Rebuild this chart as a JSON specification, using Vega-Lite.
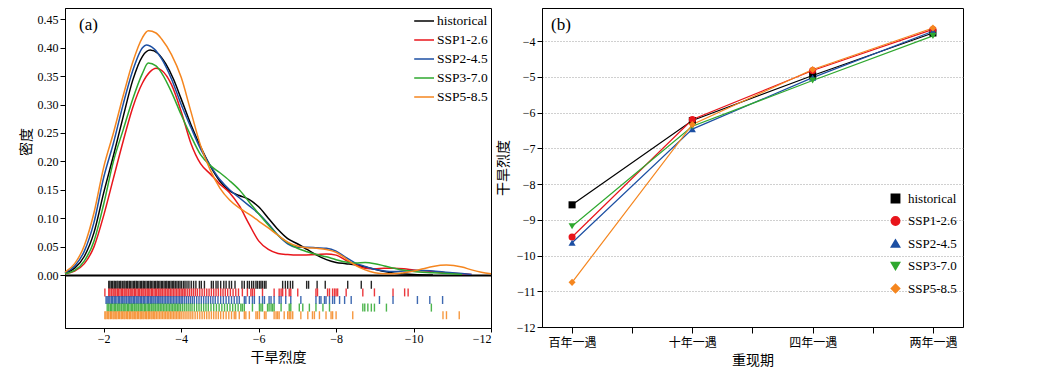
{
  "$schema": "https://vega.github.io/schema/vega-lite/v6.json",
  "autosize": {"type": "pad"},
  "padding": {"left": 18, "top": 7, "right": 0, "bottom": 0},
  "background": "white",
  "config": {
    "view": {"stroke": "black", "strokeWidth": 1},
    "font": "Liberation Serif",
    "axis": {"labelFont": "Liberation Serif", "labelFontSize": 12, "labelColor": "black", "domainColor": "black", "tickColor": "black", "titleFont": "Noto Sans CJK SC", "titleFontSize": 14, "titleFontWeight": "normal", "titleColor": "black", "grid": false},
    "legend": {"labelFont": "Liberation Serif", "labelColor": "black"},
    "title": {"font": "Liberation Serif", "fontSize": 17, "fontWeight": "normal", "color": "black"}
  },
  "datasets": {
    "density": [
      {"series":"historical","severity":-1,"density":0.003},{"series":"historical","severity":-1.25,"density":0.012},{"series":"historical","severity":-1.5,"density":0.033},{"series":"historical","severity":-1.75,"density":0.075},{"series":"historical","severity":-2,"density":0.145},{"series":"historical","severity":-2.25,"density":0.21},{"series":"historical","severity":-2.5,"density":0.278},{"series":"historical","severity":-2.75,"density":0.343},{"series":"historical","severity":-3,"density":0.385},{"series":"historical","severity":-3.2,"density":0.396},{"series":"historical","severity":-3.4,"density":0.39},{"series":"historical","severity":-3.6,"density":0.372},{"series":"historical","severity":-3.8,"density":0.345},{"series":"historical","severity":-4,"density":0.31},{"series":"historical","severity":-4.25,"density":0.265},{"series":"historical","severity":-4.5,"density":0.226},{"series":"historical","severity":-4.75,"density":0.192},{"series":"historical","severity":-5,"density":0.165},{"series":"historical","severity":-5.25,"density":0.148},{"series":"historical","severity":-5.5,"density":0.14},{"series":"historical","severity":-5.75,"density":0.133},{"series":"historical","severity":-6,"density":0.12},{"series":"historical","severity":-6.25,"density":0.1},{"series":"historical","severity":-6.5,"density":0.08},{"series":"historical","severity":-6.75,"density":0.064},{"series":"historical","severity":-7,"density":0.055},{"series":"historical","severity":-7.25,"density":0.045},{"series":"historical","severity":-7.5,"density":0.035},{"series":"historical","severity":-7.75,"density":0.027},{"series":"historical","severity":-8,"density":0.022},{"series":"historical","severity":-8.25,"density":0.02},{"series":"historical","severity":-8.5,"density":0.018},{"series":"historical","severity":-8.75,"density":0.014},{"series":"historical","severity":-9,"density":0.01},{"series":"historical","severity":-9.25,"density":0.006},{"series":"historical","severity":-9.5,"density":0.003},{"series":"historical","severity":-10,"density":0.001},{"series":"historical","severity":-10.5,"density":0},
      {"series":"SSP1-2.6","severity":-1,"density":0.002},{"series":"SSP1-2.6","severity":-1.25,"density":0.007},{"series":"SSP1-2.6","severity":-1.5,"density":0.02},{"series":"SSP1-2.6","severity":-1.75,"density":0.05},{"series":"SSP1-2.6","severity":-2,"density":0.105},{"series":"SSP1-2.6","severity":-2.25,"density":0.17},{"series":"SSP1-2.6","severity":-2.5,"density":0.235},{"series":"SSP1-2.6","severity":-2.75,"density":0.295},{"series":"SSP1-2.6","severity":-3,"density":0.338},{"series":"SSP1-2.6","severity":-3.2,"density":0.358},{"series":"SSP1-2.6","severity":-3.35,"density":0.364},{"series":"SSP1-2.6","severity":-3.5,"density":0.36},{"series":"SSP1-2.6","severity":-3.75,"density":0.335},{"series":"SSP1-2.6","severity":-4,"density":0.288},{"series":"SSP1-2.6","severity":-4.25,"density":0.232},{"series":"SSP1-2.6","severity":-4.5,"density":0.196},{"series":"SSP1-2.6","severity":-4.75,"density":0.178},{"series":"SSP1-2.6","severity":-5,"density":0.16},{"series":"SSP1-2.6","severity":-5.25,"density":0.145},{"series":"SSP1-2.6","severity":-5.5,"density":0.122},{"series":"SSP1-2.6","severity":-5.75,"density":0.09},{"series":"SSP1-2.6","severity":-6,"density":0.06},{"series":"SSP1-2.6","severity":-6.25,"density":0.045},{"series":"SSP1-2.6","severity":-6.5,"density":0.038},{"series":"SSP1-2.6","severity":-6.75,"density":0.036},{"series":"SSP1-2.6","severity":-7,"density":0.035},{"series":"SSP1-2.6","severity":-7.5,"density":0.036},{"series":"SSP1-2.6","severity":-7.75,"density":0.037},{"series":"SSP1-2.6","severity":-8,"density":0.035},{"series":"SSP1-2.6","severity":-8.25,"density":0.026},{"series":"SSP1-2.6","severity":-8.5,"density":0.018},{"series":"SSP1-2.6","severity":-8.75,"density":0.012},{"series":"SSP1-2.6","severity":-9,"density":0.011},{"series":"SSP1-2.6","severity":-9.25,"density":0.012},{"series":"SSP1-2.6","severity":-9.5,"density":0.012},{"series":"SSP1-2.6","severity":-9.75,"density":0.011},{"series":"SSP1-2.6","severity":-10,"density":0.009},{"series":"SSP1-2.6","severity":-10.5,"density":0.006},{"series":"SSP1-2.6","severity":-11,"density":0.003},{"series":"SSP1-2.6","severity":-11.5,"density":0.001},
      {"series":"SSP2-4.5","severity":-1,"density":0.004},{"series":"SSP2-4.5","severity":-1.25,"density":0.016},{"series":"SSP2-4.5","severity":-1.5,"density":0.042},{"series":"SSP2-4.5","severity":-1.75,"density":0.093},{"series":"SSP2-4.5","severity":-2,"density":0.172},{"series":"SSP2-4.5","severity":-2.25,"density":0.232},{"series":"SSP2-4.5","severity":-2.5,"density":0.3},{"series":"SSP2-4.5","severity":-2.75,"density":0.36},{"series":"SSP2-4.5","severity":-3,"density":0.4},{"series":"SSP2-4.5","severity":-3.1,"density":0.405},{"series":"SSP2-4.5","severity":-3.3,"density":0.398},{"series":"SSP2-4.5","severity":-3.5,"density":0.38},{"series":"SSP2-4.5","severity":-3.75,"density":0.345},{"series":"SSP2-4.5","severity":-4,"density":0.3},{"series":"SSP2-4.5","severity":-4.25,"density":0.26},{"series":"SSP2-4.5","severity":-4.5,"density":0.222},{"series":"SSP2-4.5","severity":-4.75,"density":0.193},{"series":"SSP2-4.5","severity":-5,"density":0.168},{"series":"SSP2-4.5","severity":-5.25,"density":0.15},{"series":"SSP2-4.5","severity":-5.5,"density":0.136},{"series":"SSP2-4.5","severity":-5.75,"density":0.122},{"series":"SSP2-4.5","severity":-6,"density":0.108},{"series":"SSP2-4.5","severity":-6.25,"density":0.09},{"series":"SSP2-4.5","severity":-6.5,"density":0.07},{"series":"SSP2-4.5","severity":-6.75,"density":0.055},{"series":"SSP2-4.5","severity":-7,"density":0.049},{"series":"SSP2-4.5","severity":-7.25,"density":0.049},{"series":"SSP2-4.5","severity":-7.5,"density":0.048},{"series":"SSP2-4.5","severity":-7.75,"density":0.047},{"series":"SSP2-4.5","severity":-8,"density":0.042},{"series":"SSP2-4.5","severity":-8.25,"density":0.031},{"series":"SSP2-4.5","severity":-8.5,"density":0.021},{"series":"SSP2-4.5","severity":-8.75,"density":0.015},{"series":"SSP2-4.5","severity":-9,"density":0.01},{"series":"SSP2-4.5","severity":-9.25,"density":0.007},{"series":"SSP2-4.5","severity":-9.5,"density":0.006},{"series":"SSP2-4.5","severity":-9.75,"density":0.007},{"series":"SSP2-4.5","severity":-10,"density":0.008},{"series":"SSP2-4.5","severity":-10.25,"density":0.008},{"series":"SSP2-4.5","severity":-10.5,"density":0.007},{"series":"SSP2-4.5","severity":-11,"density":0.004},{"series":"SSP2-4.5","severity":-11.5,"density":0.001},
      {"series":"SSP3-7.0","severity":-1,"density":0.002},{"series":"SSP3-7.0","severity":-1.25,"density":0.008},{"series":"SSP3-7.0","severity":-1.5,"density":0.025},{"series":"SSP3-7.0","severity":-1.75,"density":0.06},{"series":"SSP3-7.0","severity":-2,"density":0.125},{"series":"SSP3-7.0","severity":-2.25,"density":0.2},{"series":"SSP3-7.0","severity":-2.5,"density":0.255},{"series":"SSP3-7.0","severity":-2.75,"density":0.31},{"series":"SSP3-7.0","severity":-3,"density":0.355},{"series":"SSP3-7.0","severity":-3.15,"density":0.373},{"series":"SSP3-7.0","severity":-3.35,"density":0.368},{"series":"SSP3-7.0","severity":-3.5,"density":0.355},{"series":"SSP3-7.0","severity":-3.75,"density":0.322},{"series":"SSP3-7.0","severity":-4,"density":0.282},{"series":"SSP3-7.0","severity":-4.25,"density":0.245},{"series":"SSP3-7.0","severity":-4.5,"density":0.212},{"series":"SSP3-7.0","severity":-4.75,"density":0.193},{"series":"SSP3-7.0","severity":-5,"density":0.18},{"series":"SSP3-7.0","severity":-5.25,"density":0.166},{"series":"SSP3-7.0","severity":-5.5,"density":0.15},{"series":"SSP3-7.0","severity":-5.75,"density":0.129},{"series":"SSP3-7.0","severity":-6,"density":0.108},{"series":"SSP3-7.0","severity":-6.25,"density":0.088},{"series":"SSP3-7.0","severity":-6.5,"density":0.07},{"series":"SSP3-7.0","severity":-6.75,"density":0.057},{"series":"SSP3-7.0","severity":-7,"density":0.047},{"series":"SSP3-7.0","severity":-7.25,"density":0.041},{"series":"SSP3-7.0","severity":-7.5,"density":0.036},{"series":"SSP3-7.0","severity":-7.75,"density":0.032},{"series":"SSP3-7.0","severity":-8,"density":0.027},{"series":"SSP3-7.0","severity":-8.25,"density":0.023},{"series":"SSP3-7.0","severity":-8.5,"density":0.021},{"series":"SSP3-7.0","severity":-8.75,"density":0.022},{"series":"SSP3-7.0","severity":-9,"density":0.02},{"series":"SSP3-7.0","severity":-9.25,"density":0.016},{"series":"SSP3-7.0","severity":-9.5,"density":0.012},{"series":"SSP3-7.0","severity":-10,"density":0.006},{"series":"SSP3-7.0","severity":-10.5,"density":0.004},{"series":"SSP3-7.0","severity":-11,"density":0.002},{"series":"SSP3-7.0","severity":-11.25,"density":0.001},
      {"series":"SSP5-8.5","severity":-1,"density":0.005},{"series":"SSP5-8.5","severity":-1.25,"density":0.02},{"series":"SSP5-8.5","severity":-1.5,"density":0.052},{"series":"SSP5-8.5","severity":-1.75,"density":0.11},{"series":"SSP5-8.5","severity":-2,"density":0.19},{"series":"SSP5-8.5","severity":-2.25,"density":0.25},{"series":"SSP5-8.5","severity":-2.5,"density":0.315},{"series":"SSP5-8.5","severity":-2.75,"density":0.375},{"series":"SSP5-8.5","severity":-3,"density":0.418},{"series":"SSP5-8.5","severity":-3.15,"density":0.43},{"series":"SSP5-8.5","severity":-3.35,"density":0.426},{"series":"SSP5-8.5","severity":-3.5,"density":0.415},{"series":"SSP5-8.5","severity":-3.75,"density":0.388},{"series":"SSP5-8.5","severity":-4,"density":0.348},{"series":"SSP5-8.5","severity":-4.25,"density":0.288},{"series":"SSP5-8.5","severity":-4.5,"density":0.228},{"series":"SSP5-8.5","severity":-4.75,"density":0.185},{"series":"SSP5-8.5","severity":-5,"density":0.153},{"series":"SSP5-8.5","severity":-5.25,"density":0.132},{"series":"SSP5-8.5","severity":-5.5,"density":0.118},{"series":"SSP5-8.5","severity":-5.75,"density":0.107},{"series":"SSP5-8.5","severity":-6,"density":0.095},{"series":"SSP5-8.5","severity":-6.25,"density":0.083},{"series":"SSP5-8.5","severity":-6.5,"density":0.07},{"series":"SSP5-8.5","severity":-6.75,"density":0.058},{"series":"SSP5-8.5","severity":-7,"density":0.051},{"series":"SSP5-8.5","severity":-7.25,"density":0.048},{"series":"SSP5-8.5","severity":-7.5,"density":0.047},{"series":"SSP5-8.5","severity":-7.75,"density":0.045},{"series":"SSP5-8.5","severity":-8,"density":0.04},{"series":"SSP5-8.5","severity":-8.25,"density":0.029},{"series":"SSP5-8.5","severity":-8.5,"density":0.017},{"series":"SSP5-8.5","severity":-8.75,"density":0.009},{"series":"SSP5-8.5","severity":-9,"density":0.004},{"series":"SSP5-8.5","severity":-9.25,"density":0.002},{"series":"SSP5-8.5","severity":-9.5,"density":0.002},{"series":"SSP5-8.5","severity":-9.75,"density":0.004},{"series":"SSP5-8.5","severity":-10,"density":0.007},{"series":"SSP5-8.5","severity":-10.25,"density":0.011},{"series":"SSP5-8.5","severity":-10.5,"density":0.015},{"series":"SSP5-8.5","severity":-10.85,"density":0.0175},{"series":"SSP5-8.5","severity":-11.25,"density":0.014},{"series":"SSP5-8.5","severity":-11.5,"density":0.009},{"series":"SSP5-8.5","severity":-11.75,"density":0.005},{"series":"SSP5-8.5","severity":-12,"density":0.002}
    ],
    "rug": [
      {"series":"historical","severity":-2.13},{"series":"historical","severity":-2.16},{"series":"historical","severity":-2.2},{"series":"historical","severity":-2.23},{"series":"historical","severity":-2.27},{"series":"historical","severity":-2.3},{"series":"historical","severity":-2.34},{"series":"historical","severity":-2.37},{"series":"historical","severity":-2.41},{"series":"historical","severity":-2.44},{"series":"historical","severity":-2.48},{"series":"historical","severity":-2.52},{"series":"historical","severity":-2.55},{"series":"historical","severity":-2.59},{"series":"historical","severity":-2.62},{"series":"historical","severity":-2.66},{"series":"historical","severity":-2.69},{"series":"historical","severity":-2.73},{"series":"historical","severity":-2.77},{"series":"historical","severity":-2.8},{"series":"historical","severity":-2.84},{"series":"historical","severity":-2.87},{"series":"historical","severity":-2.91},{"series":"historical","severity":-2.95},{"series":"historical","severity":-2.98},{"series":"historical","severity":-3.02},{"series":"historical","severity":-3.05},{"series":"historical","severity":-3.09},{"series":"historical","severity":-3.13},{"series":"historical","severity":-3.16},{"series":"historical","severity":-3.2},{"series":"historical","severity":-3.23},{"series":"historical","severity":-3.27},{"series":"historical","severity":-3.31},{"series":"historical","severity":-3.34},{"series":"historical","severity":-3.38},{"series":"historical","severity":-3.41},{"series":"historical","severity":-3.45},{"series":"historical","severity":-3.49},{"series":"historical","severity":-3.52},{"series":"historical","severity":-3.56},{"series":"historical","severity":-3.6},{"series":"historical","severity":-3.63},{"series":"historical","severity":-3.67},{"series":"historical","severity":-3.7},{"series":"historical","severity":-3.74},{"series":"historical","severity":-3.78},{"series":"historical","severity":-3.81},{"series":"historical","severity":-3.85},{"series":"historical","severity":-3.89},{"series":"historical","severity":-3.93},{"series":"historical","severity":-3.97},{"series":"historical","severity":-4.01},{"series":"historical","severity":-4.06},{"series":"historical","severity":-4.1},{"series":"historical","severity":-4.15},{"series":"historical","severity":-4.2},{"series":"historical","severity":-4.26},{"series":"historical","severity":-4.32},{"series":"historical","severity":-4.38},{"series":"historical","severity":-4.47},{"series":"historical","severity":-4.52},{"series":"historical","severity":-4.6},{"series":"historical","severity":-4.78},{"series":"historical","severity":-4.83},{"series":"historical","severity":-4.9},{"series":"historical","severity":-4.95},{"series":"historical","severity":-5.02},{"series":"historical","severity":-5.1},{"series":"historical","severity":-5.16},{"series":"historical","severity":-5.24},{"series":"historical","severity":-5.3},{"series":"historical","severity":-5.39},{"series":"historical","severity":-5.57},{"series":"historical","severity":-5.63},{"series":"historical","severity":-5.71},{"series":"historical","severity":-5.76},{"series":"historical","severity":-5.82},{"series":"historical","severity":-5.87},{"series":"historical","severity":-5.93},{"series":"historical","severity":-5.97},{"series":"historical","severity":-6.02},{"series":"historical","severity":-6.06},{"series":"historical","severity":-6.1},{"series":"historical","severity":-6.15},{"series":"historical","severity":-6.19},{"series":"historical","severity":-6.62},{"series":"historical","severity":-6.69},{"series":"historical","severity":-6.75},{"series":"historical","severity":-6.82},{"series":"historical","severity":-6.88},{"series":"historical","severity":-7.24},{"series":"historical","severity":-7.29},{"series":"historical","severity":-7.51},{"series":"historical","severity":-7.72},{"series":"historical","severity":-8.3},{"series":"historical","severity":-8.65},{"series":"historical","severity":-8.91},
      {"series":"SSP1-2.6","severity":-2.03},{"series":"SSP1-2.6","severity":-2.13},{"series":"SSP1-2.6","severity":-2.16},{"series":"SSP1-2.6","severity":-2.2},{"series":"SSP1-2.6","severity":-2.24},{"series":"SSP1-2.6","severity":-2.27},{"series":"SSP1-2.6","severity":-2.31},{"series":"SSP1-2.6","severity":-2.35},{"series":"SSP1-2.6","severity":-2.38},{"series":"SSP1-2.6","severity":-2.42},{"series":"SSP1-2.6","severity":-2.46},{"series":"SSP1-2.6","severity":-2.49},{"series":"SSP1-2.6","severity":-2.53},{"series":"SSP1-2.6","severity":-2.57},{"series":"SSP1-2.6","severity":-2.6},{"series":"SSP1-2.6","severity":-2.64},{"series":"SSP1-2.6","severity":-2.68},{"series":"SSP1-2.6","severity":-2.71},{"series":"SSP1-2.6","severity":-2.75},{"series":"SSP1-2.6","severity":-2.79},{"series":"SSP1-2.6","severity":-2.82},{"series":"SSP1-2.6","severity":-2.86},{"series":"SSP1-2.6","severity":-2.9},{"series":"SSP1-2.6","severity":-2.93},{"series":"SSP1-2.6","severity":-2.97},{"series":"SSP1-2.6","severity":-3.01},{"series":"SSP1-2.6","severity":-3.04},{"series":"SSP1-2.6","severity":-3.08},{"series":"SSP1-2.6","severity":-3.12},{"series":"SSP1-2.6","severity":-3.15},{"series":"SSP1-2.6","severity":-3.19},{"series":"SSP1-2.6","severity":-3.23},{"series":"SSP1-2.6","severity":-3.26},{"series":"SSP1-2.6","severity":-3.3},{"series":"SSP1-2.6","severity":-3.34},{"series":"SSP1-2.6","severity":-3.37},{"series":"SSP1-2.6","severity":-3.41},{"series":"SSP1-2.6","severity":-3.45},{"series":"SSP1-2.6","severity":-3.48},{"series":"SSP1-2.6","severity":-3.52},{"series":"SSP1-2.6","severity":-3.56},{"series":"SSP1-2.6","severity":-3.6},{"series":"SSP1-2.6","severity":-3.64},{"series":"SSP1-2.6","severity":-3.68},{"series":"SSP1-2.6","severity":-3.72},{"series":"SSP1-2.6","severity":-3.76},{"series":"SSP1-2.6","severity":-3.8},{"series":"SSP1-2.6","severity":-3.84},{"series":"SSP1-2.6","severity":-3.88},{"series":"SSP1-2.6","severity":-3.92},{"series":"SSP1-2.6","severity":-3.96},{"series":"SSP1-2.6","severity":-4.0},{"series":"SSP1-2.6","severity":-4.04},{"series":"SSP1-2.6","severity":-4.08},{"series":"SSP1-2.6","severity":-4.12},{"series":"SSP1-2.6","severity":-4.17},{"series":"SSP1-2.6","severity":-4.22},{"series":"SSP1-2.6","severity":-4.27},{"series":"SSP1-2.6","severity":-4.32},{"series":"SSP1-2.6","severity":-4.37},{"series":"SSP1-2.6","severity":-4.42},{"series":"SSP1-2.6","severity":-4.48},{"series":"SSP1-2.6","severity":-4.54},{"series":"SSP1-2.6","severity":-4.6},{"series":"SSP1-2.6","severity":-4.66},{"series":"SSP1-2.6","severity":-4.72},{"series":"SSP1-2.6","severity":-4.78},{"series":"SSP1-2.6","severity":-4.84},{"series":"SSP1-2.6","severity":-4.9},{"series":"SSP1-2.6","severity":-4.96},{"series":"SSP1-2.6","severity":-5.02},{"series":"SSP1-2.6","severity":-5.08},{"series":"SSP1-2.6","severity":-5.14},{"series":"SSP1-2.6","severity":-5.2},{"series":"SSP1-2.6","severity":-5.27},{"series":"SSP1-2.6","severity":-5.34},{"series":"SSP1-2.6","severity":-5.41},{"series":"SSP1-2.6","severity":-5.48},{"series":"SSP1-2.6","severity":-5.58},{"series":"SSP1-2.6","severity":-5.71},{"series":"SSP1-2.6","severity":-5.8},{"series":"SSP1-2.6","severity":-5.84},{"series":"SSP1-2.6","severity":-5.89},{"series":"SSP1-2.6","severity":-6.1},{"series":"SSP1-2.6","severity":-6.4},{"series":"SSP1-2.6","severity":-6.53},{"series":"SSP1-2.6","severity":-6.58},{"series":"SSP1-2.6","severity":-6.62},{"series":"SSP1-2.6","severity":-6.7},{"series":"SSP1-2.6","severity":-6.79},{"series":"SSP1-2.6","severity":-6.83},{"series":"SSP1-2.6","severity":-7.01},{"series":"SSP1-2.6","severity":-7.48},{"series":"SSP1-2.6","severity":-7.52},{"series":"SSP1-2.6","severity":-7.78},{"series":"SSP1-2.6","severity":-7.83},{"series":"SSP1-2.6","severity":-7.91},{"series":"SSP1-2.6","severity":-7.96},{"series":"SSP1-2.6","severity":-8.0},{"series":"SSP1-2.6","severity":-8.04},{"series":"SSP1-2.6","severity":-8.26},{"series":"SSP1-2.6","severity":-8.69},{"series":"SSP1-2.6","severity":-8.99},{"series":"SSP1-2.6","severity":-9.47},{"series":"SSP1-2.6","severity":-9.77},{"series":"SSP1-2.6","severity":-9.86},
      {"series":"SSP2-4.5","severity":-2.06},{"series":"SSP2-4.5","severity":-2.09},{"series":"SSP2-4.5","severity":-2.13},{"series":"SSP2-4.5","severity":-2.16},{"series":"SSP2-4.5","severity":-2.2},{"series":"SSP2-4.5","severity":-2.23},{"series":"SSP2-4.5","severity":-2.27},{"series":"SSP2-4.5","severity":-2.3},{"series":"SSP2-4.5","severity":-2.34},{"series":"SSP2-4.5","severity":-2.38},{"series":"SSP2-4.5","severity":-2.41},{"series":"SSP2-4.5","severity":-2.45},{"series":"SSP2-4.5","severity":-2.48},{"series":"SSP2-4.5","severity":-2.52},{"series":"SSP2-4.5","severity":-2.55},{"series":"SSP2-4.5","severity":-2.59},{"series":"SSP2-4.5","severity":-2.63},{"series":"SSP2-4.5","severity":-2.66},{"series":"SSP2-4.5","severity":-2.7},{"series":"SSP2-4.5","severity":-2.73},{"series":"SSP2-4.5","severity":-2.77},{"series":"SSP2-4.5","severity":-2.8},{"series":"SSP2-4.5","severity":-2.84},{"series":"SSP2-4.5","severity":-2.88},{"series":"SSP2-4.5","severity":-2.91},{"series":"SSP2-4.5","severity":-2.95},{"series":"SSP2-4.5","severity":-2.98},{"series":"SSP2-4.5","severity":-3.02},{"series":"SSP2-4.5","severity":-3.05},{"series":"SSP2-4.5","severity":-3.09},{"series":"SSP2-4.5","severity":-3.13},{"series":"SSP2-4.5","severity":-3.16},{"series":"SSP2-4.5","severity":-3.2},{"series":"SSP2-4.5","severity":-3.23},{"series":"SSP2-4.5","severity":-3.27},{"series":"SSP2-4.5","severity":-3.3},{"series":"SSP2-4.5","severity":-3.34},{"series":"SSP2-4.5","severity":-3.38},{"series":"SSP2-4.5","severity":-3.41},{"series":"SSP2-4.5","severity":-3.45},{"series":"SSP2-4.5","severity":-3.48},{"series":"SSP2-4.5","severity":-3.52},{"series":"SSP2-4.5","severity":-3.56},{"series":"SSP2-4.5","severity":-3.6},{"series":"SSP2-4.5","severity":-3.64},{"series":"SSP2-4.5","severity":-3.68},{"series":"SSP2-4.5","severity":-3.72},{"series":"SSP2-4.5","severity":-3.76},{"series":"SSP2-4.5","severity":-3.8},{"series":"SSP2-4.5","severity":-3.84},{"series":"SSP2-4.5","severity":-3.88},{"series":"SSP2-4.5","severity":-3.92},{"series":"SSP2-4.5","severity":-3.96},{"series":"SSP2-4.5","severity":-4.0},{"series":"SSP2-4.5","severity":-4.04},{"series":"SSP2-4.5","severity":-4.09},{"series":"SSP2-4.5","severity":-4.14},{"series":"SSP2-4.5","severity":-4.19},{"series":"SSP2-4.5","severity":-4.24},{"series":"SSP2-4.5","severity":-4.29},{"series":"SSP2-4.5","severity":-4.34},{"series":"SSP2-4.5","severity":-4.4},{"series":"SSP2-4.5","severity":-4.46},{"series":"SSP2-4.5","severity":-4.52},{"series":"SSP2-4.5","severity":-4.58},{"series":"SSP2-4.5","severity":-4.64},{"series":"SSP2-4.5","severity":-4.7},{"series":"SSP2-4.5","severity":-4.76},{"series":"SSP2-4.5","severity":-4.82},{"series":"SSP2-4.5","severity":-4.88},{"series":"SSP2-4.5","severity":-4.95},{"series":"SSP2-4.5","severity":-5.02},{"series":"SSP2-4.5","severity":-5.09},{"series":"SSP2-4.5","severity":-5.16},{"series":"SSP2-4.5","severity":-5.23},{"series":"SSP2-4.5","severity":-5.3},{"series":"SSP2-4.5","severity":-5.37},{"series":"SSP2-4.5","severity":-5.44},{"series":"SSP2-4.5","severity":-5.5},{"series":"SSP2-4.5","severity":-5.63},{"series":"SSP2-4.5","severity":-5.67},{"series":"SSP2-4.5","severity":-5.76},{"series":"SSP2-4.5","severity":-5.84},{"series":"SSP2-4.5","severity":-5.89},{"series":"SSP2-4.5","severity":-6.02},{"series":"SSP2-4.5","severity":-6.1},{"series":"SSP2-4.5","severity":-6.15},{"series":"SSP2-4.5","severity":-6.27},{"series":"SSP2-4.5","severity":-6.32},{"series":"SSP2-4.5","severity":-6.4},{"series":"SSP2-4.5","severity":-6.53},{"series":"SSP2-4.5","severity":-6.58},{"series":"SSP2-4.5","severity":-6.7},{"series":"SSP2-4.5","severity":-6.83},{"series":"SSP2-4.5","severity":-7.09},{"series":"SSP2-4.5","severity":-7.48},{"series":"SSP2-4.5","severity":-7.57},{"series":"SSP2-4.5","severity":-7.61},{"series":"SSP2-4.5","severity":-7.7},{"series":"SSP2-4.5","severity":-7.74},{"series":"SSP2-4.5","severity":-7.83},{"series":"SSP2-4.5","severity":-7.91},{"series":"SSP2-4.5","severity":-7.96},{"series":"SSP2-4.5","severity":-8.09},{"series":"SSP2-4.5","severity":-8.22},{"series":"SSP2-4.5","severity":-8.39},{"series":"SSP2-4.5","severity":-9.12},{"series":"SSP2-4.5","severity":-9.47},{"series":"SSP2-4.5","severity":-10.1},{"series":"SSP2-4.5","severity":-10.42},{"series":"SSP2-4.5","severity":-10.75},
      {"series":"SSP3-7.0","severity":-2.09},{"series":"SSP3-7.0","severity":-2.13},{"series":"SSP3-7.0","severity":-2.17},{"series":"SSP3-7.0","severity":-2.2},{"series":"SSP3-7.0","severity":-2.24},{"series":"SSP3-7.0","severity":-2.28},{"series":"SSP3-7.0","severity":-2.31},{"series":"SSP3-7.0","severity":-2.35},{"series":"SSP3-7.0","severity":-2.39},{"series":"SSP3-7.0","severity":-2.42},{"series":"SSP3-7.0","severity":-2.46},{"series":"SSP3-7.0","severity":-2.5},{"series":"SSP3-7.0","severity":-2.53},{"series":"SSP3-7.0","severity":-2.57},{"series":"SSP3-7.0","severity":-2.61},{"series":"SSP3-7.0","severity":-2.64},{"series":"SSP3-7.0","severity":-2.68},{"series":"SSP3-7.0","severity":-2.72},{"series":"SSP3-7.0","severity":-2.75},{"series":"SSP3-7.0","severity":-2.79},{"series":"SSP3-7.0","severity":-2.83},{"series":"SSP3-7.0","severity":-2.86},{"series":"SSP3-7.0","severity":-2.9},{"series":"SSP3-7.0","severity":-2.94},{"series":"SSP3-7.0","severity":-2.97},{"series":"SSP3-7.0","severity":-3.01},{"series":"SSP3-7.0","severity":-3.05},{"series":"SSP3-7.0","severity":-3.08},{"series":"SSP3-7.0","severity":-3.12},{"series":"SSP3-7.0","severity":-3.16},{"series":"SSP3-7.0","severity":-3.19},{"series":"SSP3-7.0","severity":-3.23},{"series":"SSP3-7.0","severity":-3.27},{"series":"SSP3-7.0","severity":-3.3},{"series":"SSP3-7.0","severity":-3.34},{"series":"SSP3-7.0","severity":-3.38},{"series":"SSP3-7.0","severity":-3.42},{"series":"SSP3-7.0","severity":-3.46},{"series":"SSP3-7.0","severity":-3.5},{"series":"SSP3-7.0","severity":-3.54},{"series":"SSP3-7.0","severity":-3.58},{"series":"SSP3-7.0","severity":-3.62},{"series":"SSP3-7.0","severity":-3.66},{"series":"SSP3-7.0","severity":-3.7},{"series":"SSP3-7.0","severity":-3.74},{"series":"SSP3-7.0","severity":-3.78},{"series":"SSP3-7.0","severity":-3.82},{"series":"SSP3-7.0","severity":-3.86},{"series":"SSP3-7.0","severity":-3.9},{"series":"SSP3-7.0","severity":-3.94},{"series":"SSP3-7.0","severity":-3.98},{"series":"SSP3-7.0","severity":-4.03},{"series":"SSP3-7.0","severity":-4.08},{"series":"SSP3-7.0","severity":-4.13},{"series":"SSP3-7.0","severity":-4.18},{"series":"SSP3-7.0","severity":-4.23},{"series":"SSP3-7.0","severity":-4.28},{"series":"SSP3-7.0","severity":-4.34},{"series":"SSP3-7.0","severity":-4.4},{"series":"SSP3-7.0","severity":-4.46},{"series":"SSP3-7.0","severity":-4.52},{"series":"SSP3-7.0","severity":-4.58},{"series":"SSP3-7.0","severity":-4.64},{"series":"SSP3-7.0","severity":-4.7},{"series":"SSP3-7.0","severity":-4.77},{"series":"SSP3-7.0","severity":-4.84},{"series":"SSP3-7.0","severity":-4.91},{"series":"SSP3-7.0","severity":-4.98},{"series":"SSP3-7.0","severity":-5.05},{"series":"SSP3-7.0","severity":-5.12},{"series":"SSP3-7.0","severity":-5.19},{"series":"SSP3-7.0","severity":-5.26},{"series":"SSP3-7.0","severity":-5.33},{"series":"SSP3-7.0","severity":-5.4},{"series":"SSP3-7.0","severity":-5.47},{"series":"SSP3-7.0","severity":-5.54},{"series":"SSP3-7.0","severity":-5.58},{"series":"SSP3-7.0","severity":-5.63},{"series":"SSP3-7.0","severity":-5.84},{"series":"SSP3-7.0","severity":-6.02},{"series":"SSP3-7.0","severity":-6.06},{"series":"SSP3-7.0","severity":-6.1},{"series":"SSP3-7.0","severity":-6.23},{"series":"SSP3-7.0","severity":-6.27},{"series":"SSP3-7.0","severity":-6.32},{"series":"SSP3-7.0","severity":-6.36},{"series":"SSP3-7.0","severity":-6.4},{"series":"SSP3-7.0","severity":-6.58},{"series":"SSP3-7.0","severity":-6.79},{"series":"SSP3-7.0","severity":-6.83},{"series":"SSP3-7.0","severity":-7.05},{"series":"SSP3-7.0","severity":-7.14},{"series":"SSP3-7.0","severity":-7.31},{"series":"SSP3-7.0","severity":-7.48},{"series":"SSP3-7.0","severity":-7.66},{"series":"SSP3-7.0","severity":-7.83},{"series":"SSP3-7.0","severity":-8.69},{"series":"SSP3-7.0","severity":-8.74},{"series":"SSP3-7.0","severity":-8.82},{"series":"SSP3-7.0","severity":-8.91},{"series":"SSP3-7.0","severity":-8.99},{"series":"SSP3-7.0","severity":-9.3},{"series":"SSP3-7.0","severity":-10.46},
      {"series":"SSP5-8.5","severity":-2.03},{"series":"SSP5-8.5","severity":-2.06},{"series":"SSP5-8.5","severity":-2.1},{"series":"SSP5-8.5","severity":-2.13},{"series":"SSP5-8.5","severity":-2.17},{"series":"SSP5-8.5","severity":-2.2},{"series":"SSP5-8.5","severity":-2.24},{"series":"SSP5-8.5","severity":-2.27},{"series":"SSP5-8.5","severity":-2.31},{"series":"SSP5-8.5","severity":-2.34},{"series":"SSP5-8.5","severity":-2.38},{"series":"SSP5-8.5","severity":-2.41},{"series":"SSP5-8.5","severity":-2.45},{"series":"SSP5-8.5","severity":-2.48},{"series":"SSP5-8.5","severity":-2.52},{"series":"SSP5-8.5","severity":-2.55},{"series":"SSP5-8.5","severity":-2.59},{"series":"SSP5-8.5","severity":-2.62},{"series":"SSP5-8.5","severity":-2.66},{"series":"SSP5-8.5","severity":-2.69},{"series":"SSP5-8.5","severity":-2.73},{"series":"SSP5-8.5","severity":-2.76},{"series":"SSP5-8.5","severity":-2.8},{"series":"SSP5-8.5","severity":-2.83},{"series":"SSP5-8.5","severity":-2.87},{"series":"SSP5-8.5","severity":-2.9},{"series":"SSP5-8.5","severity":-2.94},{"series":"SSP5-8.5","severity":-2.97},{"series":"SSP5-8.5","severity":-3.01},{"series":"SSP5-8.5","severity":-3.04},{"series":"SSP5-8.5","severity":-3.08},{"series":"SSP5-8.5","severity":-3.11},{"series":"SSP5-8.5","severity":-3.15},{"series":"SSP5-8.5","severity":-3.18},{"series":"SSP5-8.5","severity":-3.22},{"series":"SSP5-8.5","severity":-3.25},{"series":"SSP5-8.5","severity":-3.29},{"series":"SSP5-8.5","severity":-3.32},{"series":"SSP5-8.5","severity":-3.36},{"series":"SSP5-8.5","severity":-3.4},{"series":"SSP5-8.5","severity":-3.44},{"series":"SSP5-8.5","severity":-3.48},{"series":"SSP5-8.5","severity":-3.52},{"series":"SSP5-8.5","severity":-3.56},{"series":"SSP5-8.5","severity":-3.6},{"series":"SSP5-8.5","severity":-3.64},{"series":"SSP5-8.5","severity":-3.68},{"series":"SSP5-8.5","severity":-3.72},{"series":"SSP5-8.5","severity":-3.76},{"series":"SSP5-8.5","severity":-3.8},{"series":"SSP5-8.5","severity":-3.84},{"series":"SSP5-8.5","severity":-3.88},{"series":"SSP5-8.5","severity":-3.92},{"series":"SSP5-8.5","severity":-3.96},{"series":"SSP5-8.5","severity":-4.0},{"series":"SSP5-8.5","severity":-4.05},{"series":"SSP5-8.5","severity":-4.1},{"series":"SSP5-8.5","severity":-4.15},{"series":"SSP5-8.5","severity":-4.2},{"series":"SSP5-8.5","severity":-4.25},{"series":"SSP5-8.5","severity":-4.3},{"series":"SSP5-8.5","severity":-4.36},{"series":"SSP5-8.5","severity":-4.42},{"series":"SSP5-8.5","severity":-4.48},{"series":"SSP5-8.5","severity":-4.54},{"series":"SSP5-8.5","severity":-4.6},{"series":"SSP5-8.5","severity":-4.66},{"series":"SSP5-8.5","severity":-4.72},{"series":"SSP5-8.5","severity":-4.78},{"series":"SSP5-8.5","severity":-4.84},{"series":"SSP5-8.5","severity":-4.9},{"series":"SSP5-8.5","severity":-4.96},{"series":"SSP5-8.5","severity":-5.02},{"series":"SSP5-8.5","severity":-5.09},{"series":"SSP5-8.5","severity":-5.16},{"series":"SSP5-8.5","severity":-5.23},{"series":"SSP5-8.5","severity":-5.3},{"series":"SSP5-8.5","severity":-5.37},{"series":"SSP5-8.5","severity":-5.41},{"series":"SSP5-8.5","severity":-5.5},{"series":"SSP5-8.5","severity":-5.63},{"series":"SSP5-8.5","severity":-5.67},{"series":"SSP5-8.5","severity":-5.76},{"series":"SSP5-8.5","severity":-5.93},{"series":"SSP5-8.5","severity":-5.97},{"series":"SSP5-8.5","severity":-6.02},{"series":"SSP5-8.5","severity":-6.15},{"series":"SSP5-8.5","severity":-6.19},{"series":"SSP5-8.5","severity":-6.4},{"series":"SSP5-8.5","severity":-6.45},{"series":"SSP5-8.5","severity":-6.49},{"series":"SSP5-8.5","severity":-6.53},{"series":"SSP5-8.5","severity":-6.66},{"series":"SSP5-8.5","severity":-6.75},{"series":"SSP5-8.5","severity":-6.79},{"series":"SSP5-8.5","severity":-6.83},{"series":"SSP5-8.5","severity":-6.88},{"series":"SSP5-8.5","severity":-7.09},{"series":"SSP5-8.5","severity":-7.27},{"series":"SSP5-8.5","severity":-7.39},{"series":"SSP5-8.5","severity":-7.44},{"series":"SSP5-8.5","severity":-7.57},{"series":"SSP5-8.5","severity":-7.74},{"series":"SSP5-8.5","severity":-7.87},{"series":"SSP5-8.5","severity":-7.91},{"series":"SSP5-8.5","severity":-8.0},{"series":"SSP5-8.5","severity":-8.43},{"series":"SSP5-8.5","severity":-10.76},{"series":"SSP5-8.5","severity":-10.85},{"series":"SSP5-8.5","severity":-11.18}
    ],
    "returnPeriod": [
      {"period":"百年一遇","series":"historical","severity":-8.58},{"period":"十年一遇","series":"historical","severity":-6.22},{"period":"四年一遇","series":"historical","severity":-4.96},{"period":"两年一遇","series":"historical","severity":-3.77},
      {"period":"百年一遇","series":"SSP1-2.6","severity":-9.48},{"period":"十年一遇","series":"SSP1-2.6","severity":-6.19},{"period":"四年一遇","series":"SSP1-2.6","severity":-4.82},{"period":"两年一遇","series":"SSP1-2.6","severity":-3.67},
      {"period":"百年一遇","series":"SSP2-4.5","severity":-9.64},{"period":"十年一遇","series":"SSP2-4.5","severity":-6.46},{"period":"四年一遇","series":"SSP2-4.5","severity":-5.02},{"period":"两年一遇","series":"SSP2-4.5","severity":-3.72},
      {"period":"百年一遇","series":"SSP3-7.0","severity":-9.18},{"period":"十年一遇","series":"SSP3-7.0","severity":-6.38},{"period":"四年一遇","series":"SSP3-7.0","severity":-5.1},{"period":"两年一遇","series":"SSP3-7.0","severity":-3.85},
      {"period":"百年一遇","series":"SSP5-8.5","severity":-10.75},{"period":"十年一遇","series":"SSP5-8.5","severity":-6.33},{"period":"四年一遇","series":"SSP5-8.5","severity":-4.79},{"period":"两年一遇","series":"SSP5-8.5","severity":-3.63}
    ]
  },
  "hconcat": [
    {
      "vconcat": [
        {
          "width": 426,
          "height": 267,
          "title": {"text": "(a)", "anchor": "start", "frame": "group", "orient": "top", "offset": -26, "dx": 14, "fontSize": 17},
          "data": {"name": "density"},
          "mark": {"type": "line", "interpolate": "monotone", "strokeWidth": 1.5},
          "encoding": {
            "x": {"field": "severity", "type": "quantitative", "scale": {"domain": [-12, -1], "reverse": true, "nice": false, "zero": false}, "axis": {"title": null, "labels": false, "ticks": false, "domainWidth": 2}},
            "y": {"field": "density", "type": "quantitative", "scale": {"domain": [0, 0.47], "nice": false, "zero": false}, "axis": {"values": [0, 0.05, 0.1, 0.15, 0.2, 0.25, 0.3, 0.35, 0.4, 0.45], "format": ".2f", "title": "密度", "tickSize": 5, "labelPadding": 2, "titlePadding": 4}},
            "color": {"field": "series", "type": "nominal", "scale": {"domain": ["historical", "SSP1-2.6", "SSP2-4.5", "SSP3-7.0", "SSP5-8.5"], "range": ["#000000", "#e8151b", "#1c4fa3", "#2fa82f", "#f5861f"]},
              "legend": {"orient": "none", "legendX": 356, "legendY": 6, "title": null, "padding": 0, "symbolType": "M-2.3,0H1", "symbolSize": 144, "symbolStrokeWidth": 1.5, "labelFontSize": 13.5, "labelOffset": 2, "rowPadding": 5}}
          }
        },
        {
          "width": 426,
          "height": 53,
          "data": {"name": "rug"},
          "mark": {"type": "tick", "thickness": 1.4, "size": 8, "opacity": 0.85},
          "encoding": {
            "x": {"field": "severity", "type": "quantitative", "scale": {"domain": [-12, -1], "reverse": true, "nice": false, "zero": false}, "axis": {"values": [-2, -4, -6, -8, -10, -12], "title": "干旱烈度", "tickSize": 4, "labelPadding": 1, "titlePadding": 6}},
            "y": {"field": "series", "type": "nominal", "scale": {"type": "point", "domain": ["historical", "SSP1-2.6", "SSP2-4.5", "SSP3-7.0", "SSP5-8.5"], "range": [6, 44]}, "axis": null},
            "color": {"field": "series", "type": "nominal", "scale": {"domain": ["historical", "SSP1-2.6", "SSP2-4.5", "SSP3-7.0", "SSP5-8.5"], "range": ["#000000", "#e8151b", "#1c4fa3", "#2fa82f", "#f5861f"]}, "legend": null}
          }
        }
      ],
      "spacing": 0,
      "bounds": "flush",
      "resolve": {"scale": {"color": "independent"}, "legend": {"color": "independent"}}
    },
    {
      "width": 421,
      "height": 319,
      "title": {"text": "(b)", "anchor": "start", "frame": "group", "orient": "top", "offset": -26, "dx": 9, "fontSize": 17},
      "data": {"name": "returnPeriod"},
      "layer": [
        {
          "mark": {"type": "line", "strokeWidth": 1.2},
          "encoding": {
            "x": {"field": "period", "type": "ordinal", "sort": ["百年一遇", "十年一遇", "四年一遇", "两年一遇"], "scale": {"type": "point", "padding": 0.25, "domain": ["百年一遇", "十年一遇", "四年一遇", "两年一遇"]}, "axis": {"title": "重现期", "labelAngle": 0, "tickSize": 6, "labelPadding": 4, "titlePadding": 5, "labelFont": "Noto Sans CJK SC", "labelFontSize": 12, "orient": "bottom"}},
            "y": {"field": "severity", "type": "quantitative", "scale": {"domain": [-12, -3.07], "nice": false, "zero": false}, "axis": {"values": [-12, -11, -10, -9, -8, -7, -6, -5, -4], "tickCount": 9, "labelOverlap": false, "grid": true, "gridDash": [1, 2], "gridColor": "#888888", "gridWidth": 0.8, "title": "干旱烈度", "tickSize": 5, "labelPadding": 2, "titlePadding": 6}},
            "color": {"field": "series", "type": "nominal", "scale": {"domain": ["historical", "SSP1-2.6", "SSP2-4.5", "SSP3-7.0", "SSP5-8.5"], "range": ["#000000", "#e8151b", "#1c4fa3", "#2fa82f", "#f5861f"]}}
          }
        },
        {
          "mark": {"type": "point", "filled": true, "size": 50, "opacity": 1},
          "encoding": {
            "x": {"field": "period", "type": "ordinal", "sort": ["百年一遇", "十年一遇", "四年一遇", "两年一遇"], "scale": {"type": "point", "padding": 0.25, "domain": ["百年一遇", "十年一遇", "四年一遇", "两年一遇"]}, "axis": null},
            "y": {"field": "severity", "type": "quantitative", "scale": {"domain": [-12, -3.07], "nice": false, "zero": false}, "axis": {"values": [-12, -11, -10, -9, -8, -7, -6, -5, -4], "tickCount": 9, "labelOverlap": false, "grid": true, "gridDash": [1, 2], "gridColor": "#888888", "gridWidth": 0.8, "title": "干旱烈度", "tickSize": 5, "labelPadding": 2, "titlePadding": 6}},
            "shape": {"field": "series", "type": "nominal", "scale": {"domain": ["historical", "SSP1-2.6", "SSP2-4.5", "SSP3-7.0", "SSP5-8.5"], "range": ["square", "circle", "triangle-up", "triangle-down", "diamond"]}, "legend": null},
            "color": {"field": "series", "type": "nominal", "scale": {"domain": ["historical", "SSP1-2.6", "SSP2-4.5", "SSP3-7.0", "SSP5-8.5"], "range": ["#000000", "#e8151b", "#1c4fa3", "#2fa82f", "#f5861f"]}}
          }
        },
        {
          "mark": {"type": "point", "opacity": 0},
          "encoding": {
            "x": {"field": "period", "type": "ordinal", "sort": ["百年一遇", "十年一遇", "四年一遇", "两年一遇"], "scale": {"type": "point", "padding": 0.25, "domain": ["百年一遇", "十年一遇", "四年一遇", "两年一遇"]}, "axis": {"values": ["百年一遇", "十年一遇", "四年一遇"], "tickOffset": 60.14, "labels": false, "domain": false, "title": null, "tickSize": 6, "orient": "bottom"}},
            "y": {"field": "severity", "type": "quantitative", "scale": {"domain": [-12, -3.07], "nice": false, "zero": false}, "axis": {"values": [-12, -11, -10, -9, -8, -7, -6, -5, -4], "tickCount": 9, "labelOverlap": false, "grid": true, "gridDash": [1, 2], "gridColor": "#888888", "gridWidth": 0.8, "title": "干旱烈度", "tickSize": 5, "labelPadding": 2, "titlePadding": 6}}
          }
        }
      ],
      "resolve": {"axis": {"x": "independent"}},
      "encoding": {
        "color": {"field": "series", "type": "nominal",
          "legend": {"orient": "none", "legendX": 347, "legendY": 184, "title": null, "padding": 0, "symbolSize": 70, "labelFontSize": 13, "labelOffset": 6, "rowPadding": 7.5}}
      }
    }
  ],
  "spacing": 0,
  "resolve": {"scale": {"color": "independent", "shape": "independent"}, "legend": {"color": "independent", "shape": "independent"}}
}
